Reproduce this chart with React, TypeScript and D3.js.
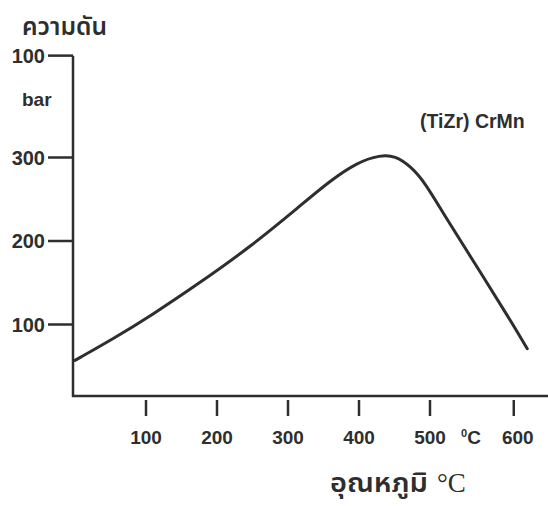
import React from "react";
import * as d3 from "d3";

const temperatures = [0, 56, 106, 176, 247, 317, 359, 397, 430, 451, 472, 493, 518, 561, 609, 637];
const pressures = [57, 84, 110, 150, 193, 242, 272, 294, 303, 302, 290, 270, 234, 176, 111, 71];

const xTickValues = [100, 200, 300, 400, 500, 618];
const xTickLabels = ["100", "200", "300", "400", "500", "600"];
const yTickValues = [100, 200, 300, 422];
const yTickLabels = ["100", "200", "300", "100"];

const seriesLabel = "(TiZr) CrMn";
const yTitle = "ความดัน";
const yUnit = "bar";
const xTitle = "อุณหภูมิ";
const xUnit = "°C";

const W = 548;
const H = 506;

export default function App() {
  const x = d3.scaleLinear().domain([0, 100]).range([75, 146]);
  const y = d3.scaleLinear().domain([0, 100]).range([408, 324.5]);
  const axisX = 73;
  const axisY = 396;
  const ink = "#2e2e2e";
  const sans = "'Liberation Sans', Arial, sans-serif";
  const thai = "'Noto Sans Thai', 'Noto Serif Thai', 'Loma', 'Garuda', 'Norasi', 'DejaVu Sans', serif";

  const pts = temperatures.map((t, i) => [t, pressures[i]] as [number, number]);
  const line = d3
    .line<[number, number]>()
    .x((d) => x(d[0]))
    .y((d) => y(d[1]))
    .curve(d3.curveBasis);

  return (
    <svg width={W} height={H} style={{ position: "absolute", left: 0, top: 0, background: "#fff" }}>
      <rect x={0} y={0} width={W} height={H} fill="#fff" />
      {/* axes */}
      <line x1={axisX} y1={y(422)} x2={axisX} y2={axisY + 1} stroke={ink} strokeWidth={2.5} />
      <line x1={axisX - 1} y1={axisY} x2={W} y2={axisY} stroke={ink} strokeWidth={2.5} />
      {/* y ticks */}
      {yTickValues.map((v, i) => (
        <g key={"y" + i}>
          <line x1={48} x2={axisX} y1={y(v)} y2={y(v)} stroke={ink} strokeWidth={2.5} />
          <text
            x={45}
            y={y(v)}
            dy="0.36em"
            textAnchor="end"
            fontFamily={sans}
            fontWeight="bold"
            fontSize={20}
            fill={ink}
          >
            {yTickLabels[i]}
          </text>
        </g>
      ))}
      <text x={22} y={106} fontFamily={sans} fontWeight="bold" fontSize={19} fill={ink}>
        {yUnit}
      </text>
      <text x={22} y={35} fontFamily={thai} fontWeight={600} fontSize={25} textLength={85} lengthAdjust="spacingAndGlyphs" fill={ink}>
        {yTitle}
      </text>
      {/* x ticks */}
      {xTickValues.map((v, i) => (
        <g key={"x" + i}>
          <line x1={x(v)} x2={x(v)} y1={axisY + 4} y2={axisY + 20} stroke={ink} strokeWidth={2.5} />
          <text
            x={x(v) + (i === 5 ? 4 : 0)}
            y={444}
            textAnchor="middle"
            fontFamily={sans}
            fontWeight="bold"
            fontSize={19}
            fill={ink}
          >
            {xTickLabels[i]}
          </text>
        </g>
      ))}
      <text x={461} y={444} fontFamily={sans} fontWeight="bold" fontSize={19} fill={ink}>
        <tspan fontSize={11} dy={-7}>0</tspan>
        <tspan dy={7}>C</tspan>
      </text>
      <text x={330} y={492} fontFamily={thai} fontWeight={600} fontSize={27} textLength={98} lengthAdjust="spacingAndGlyphs" fill={ink}>
        {xTitle}
      </text>
      <text x={437} y={492} fontFamily="'Liberation Serif', 'Times New Roman', serif" fontSize={27} fill={ink}>
        {xUnit}
      </text>
      {/* series label */}
      <text x={420} y={128} fontFamily={sans} fontWeight="bold" fontSize={19.5} fill={ink}>
        {seriesLabel}
      </text>
      {/* curve */}
      <path d={line(pts) || ""} fill="none" stroke={ink} strokeWidth={3} strokeLinecap="round" />
    </svg>
  );
}
